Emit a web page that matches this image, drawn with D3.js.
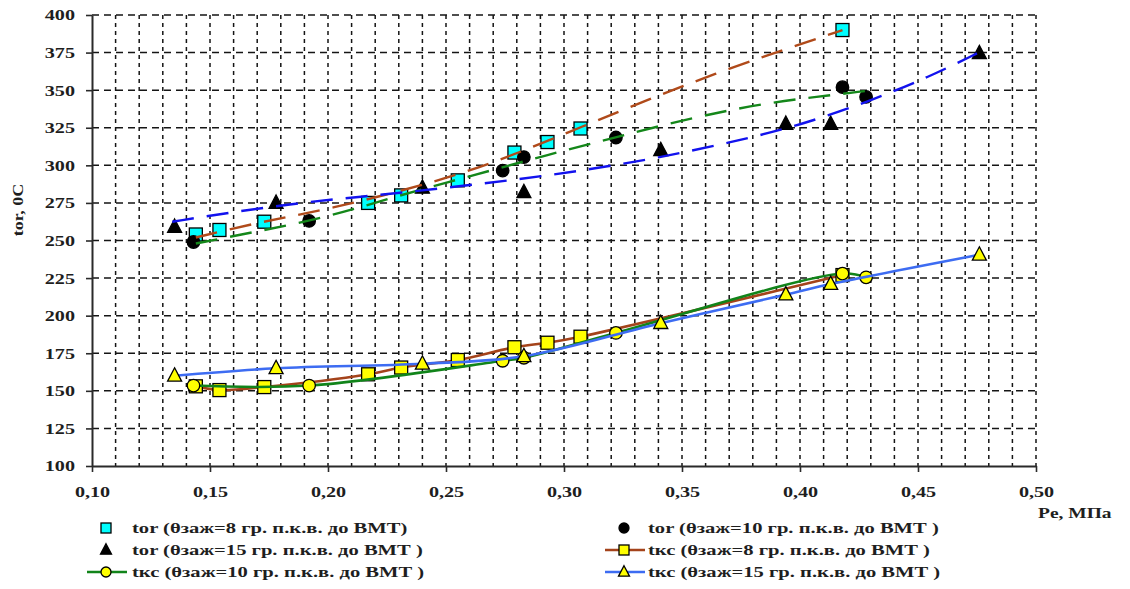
<!DOCTYPE html>
<html>
<head>
<meta charset="utf-8">
<script src="https://cdn.jsdelivr.net/npm/d3@7"></script>
<style>
  body { margin: 0; background: #fff; }
  text { font-family: "Liberation Serif", "Times New Roman", serif; font-weight: bold; fill: #1e1e1e; }
</style>
</head>
<body>
<svg id="chart" width="1130" height="589"></svg>
<script>
// ---- axis ticks ----
const X_TICKS = [0.10, 0.15, 0.20, 0.25, 0.30, 0.35, 0.40, 0.45, 0.50];
const Y_TICKS = [100, 125, 150, 175, 200, 225, 250, 275, 300, 325, 350, 375, 400];

// ---- θзаж = 8 ----
const PE_8   = [0.144, 0.154, 0.173, 0.217, 0.231, 0.255, 0.279, 0.293, 0.307, 0.418];
const TOG_8  = [254, 257, 262.5, 275, 280, 290, 308.5, 315.5, 324.5, 390];
const TKS_8  = [153, 150.5, 152.5, 161, 165.5, 170.5, 179, 182, 186, 227];

// ---- θзаж = 10 ----
const PE_10  = [0.143, 0.192, 0.274, 0.283, 0.322, 0.418, 0.428];
const TOG_10 = [249, 263, 296.5, 305.5, 318.5, 352, 345.5];
const TKS_10 = [153.5, 153.5, 170, 172, 188.5, 228, 225.5];

// ---- θзаж = 15 ----
const PE_15  = [0.135, 0.178, 0.240, 0.283, 0.341, 0.394, 0.413, 0.476];
const TOG_15 = [259, 275, 285, 282, 310, 327.5, 327.5, 374.5];
const TKS_15 = [160, 165, 168, 173, 195, 214, 221, 240.5];

// ---- trend lines of tог ----
const TREND_8_PE  = [0.144, 0.170, 0.200, 0.246, 0.275, 0.308, 0.340, 0.370, 0.401, 0.418];
const TREND_8_T   = [252, 262, 270.5, 289, 304.5, 326, 346.5, 364.5, 381, 390];
const TREND_10_PE = [0.144, 0.170, 0.200, 0.230, 0.262, 0.293, 0.324, 0.355, 0.386, 0.407, 0.428];
const TREND_10_T  = [248, 256, 265.5, 280, 293.5, 307, 319.5, 332, 341.5, 345.5, 349.5];
const TREND_15_PE = [0.134, 0.160, 0.190, 0.220, 0.250, 0.280, 0.310, 0.340, 0.370, 0.400, 0.430, 0.455, 0.475];
const TREND_15_T  = [262.5, 269, 275.5, 280, 285, 290.5, 297, 305, 315, 326.5, 343, 359, 374.5];

const LEGEND_LABELS = [
  "tor  (θзаж=8 гр. п.к.в. до ВМТ)",
  "tor  (θзаж=10 гр. п.к.в. до ВМТ )",
  "tor  (θзаж=15 гр. п.к.в. до ВМТ )",
  "tкс (θзаж=8 гр. п.к.в. до ВМТ )",
  "tкс (θзаж=10 гр. п.к.в. до ВМТ )",
  "tкс (θзаж=15 гр. п.к.в. до ВМТ )"
];

const svg = d3.select("#chart");
const STRETCH = 1.3;   // wide lettering used throughout the chart

const x = d3.scaleLinear().domain([0.10, 0.50]).range([92, 1036]);
const y = d3.scaleLinear().domain([100, 400]).range([466, 15]);

const C = {
  brown: "#a4431b", brownTrend: "#b04a1a",
  green: "#11841a", greenTrend: "#14871a",
  blue: "#3d6cf2", blueTrend: "#1212ee",
  cyan: "#00ffff", yellow: "#ffff00"
};

// ---- grid ----
const grid = svg.append("g");
grid.selectAll("line.v")
  .data(x.ticks(40).filter(v => v > 0.1001))
  .join("line")
  .attr("x1", d => x(d)).attr("x2", d => x(d))
  .attr("y1", y(400)).attr("y2", y(100))
  .attr("stroke", "#151515").attr("stroke-width", 1.5)
  .attr("stroke-dasharray", "4,4");
grid.selectAll("line.h")
  .data(Y_TICKS.filter(v => v > 100))
  .join("line")
  .attr("x1", x(0.10)).attr("x2", x(0.50))
  .attr("y1", d => y(d)).attr("y2", d => y(d))
  .attr("stroke", "#151515").attr("stroke-width", 1.5)
  .attr("stroke-dasharray", "7,5");

// ---- axes ----
const yAxis = svg.append("g").attr("transform", `translate(${x(0.10)},0)`)
  .call(d3.axisLeft(y).tickValues(Y_TICKS).tickSize(6).tickSizeOuter(0).tickPadding(11)
    .tickFormat(d3.format("d")));
const xAxis = svg.append("g").attr("transform", `translate(0,${y(100)})`)
  .call(d3.axisBottom(x).tickValues(X_TICKS).tickSize(6).tickSizeOuter(0).tickPadding(14)
    .tickFormat(d => d.toFixed(2).replace(".", ",")));

[yAxis, xAxis].forEach(a => {
  a.select(".domain").attr("stroke", "#2a2a2a").attr("stroke-width", 2);
  a.selectAll(".tick line").attr("stroke", "#2a2a2a").attr("stroke-width", 1.6);
  a.selectAll(".tick text").attr("font-size", 15.5).attr("fill", "#1e1e1e")
    .attr("font-family", "Liberation Serif, serif").attr("font-weight", "bold");
});
yAxis.selectAll(".tick text").each(function () {
  const t = d3.select(this);
  const px = +t.attr("x");
  t.attr("x", 0).attr("transform", `translate(${px},0) scale(${STRETCH},1)`);
});
xAxis.selectAll(".tick text").each(function () {
  const t = d3.select(this);
  const py = +t.attr("y");
  t.attr("y", 0).attr("transform", `translate(0,${py}) scale(${STRETCH},1)`);
});

// axis titles
svg.append("text")
  .attr("transform", `translate(23,210) rotate(-90) scale(1.2,1)`)
  .attr("text-anchor", "middle").attr("font-size", 15)
  .text("tor, 0C");
svg.append("text")
  .attr("transform", `translate(1038,518) scale(${STRETCH},1)`)
  .attr("font-size", 15)
  .text("Pe, МПа");

// ---- marker helpers ----
function drawMarker(g, shape, cx, cy, fill, s) {
  if (shape === "square") {
    g.append("rect").attr("x", cx - s / 2).attr("y", cy - s / 2)
      .attr("width", s).attr("height", s)
      .attr("fill", fill).attr("stroke", "#000").attr("stroke-width", 1.3);
  } else if (shape === "circle") {
    g.append("circle").attr("cx", cx).attr("cy", cy).attr("r", s / 2)
      .attr("fill", fill).attr("stroke", "#000").attr("stroke-width", 1.3);
  } else {
    const h = s * 0.95;
    g.append("path")
      .attr("d", `M${cx},${cy - h * 0.6}L${cx + s / 2},${cy + h * 0.4}L${cx - s / 2},${cy + h * 0.4}Z`)
      .attr("fill", fill).attr("stroke", "#000").attr("stroke-width", 1.3)
      .attr("stroke-linejoin", "miter");
  }
}
const pairs = (xs, ys) => xs.map((v, i) => [v, ys[i]]);
const smoothLine = d3.line().x(d => x(d[0])).y(d => y(d[1])).curve(d3.curveCatmullRom.alpha(0.5));
const trendLine = d3.line().x(d => x(d[0])).y(d => y(d[1])).curve(d3.curveBasis);

const plot = svg.append("g");

// tог markers
const tog = [
  { xs: PE_8,  ys: TOG_8,  shape: "square",   fill: C.cyan, size: 13 },
  { xs: PE_10, ys: TOG_10, shape: "circle",   fill: "#000", size: 12.5 },
  { xs: PE_15, ys: TOG_15, shape: "triangle", fill: "#000", size: 14 }
];
tog.forEach(s => {
  const g = plot.append("g");
  pairs(s.xs, s.ys).forEach(p => drawMarker(g, s.shape, x(p[0]), y(p[1]), s.fill, s.size));
});

// tкс lines with markers
const tks = [
  { xs: PE_8,  ys: TKS_8,  shape: "square",   color: C.brown, size: 13 },
  { xs: PE_10, ys: TKS_10, shape: "circle",   color: C.green, size: 12.5 },
  { xs: PE_15, ys: TKS_15, shape: "triangle", color: C.blue,  size: 14 }
];
tks.forEach(s => {
  const g = plot.append("g");
  const data = pairs(s.xs, s.ys);
  g.append("path").attr("d", smoothLine(data))
    .attr("fill", "none").attr("stroke", s.color).attr("stroke-width", 2.6);
  data.forEach(p => drawMarker(g, s.shape, x(p[0]), y(p[1]), C.yellow, s.size));
});

// trend lines of tог
[
  { xs: TREND_8_PE,  ys: TREND_8_T,  color: C.brownTrend },
  { xs: TREND_10_PE, ys: TREND_10_T, color: C.greenTrend },
  { xs: TREND_15_PE, ys: TREND_15_T, color: C.blueTrend }
].forEach(s => {
  plot.append("path").attr("d", trendLine(pairs(s.xs, s.ys)))
    .attr("fill", "none").attr("stroke", s.color).attr("stroke-width", 2.4)
    .attr("stroke-dasharray", "22,13");
});

// ---- legend ----
const legend = svg.append("g");
const legendItems = [
  { col: 0, row: 0, shape: "square",   fill: C.cyan,   line: null,    size: 10 },
  { col: 1, row: 0, shape: "circle",   fill: "#000",   line: null,    size: 10 },
  { col: 0, row: 1, shape: "triangle", fill: "#000",   line: null,    size: 11 },
  { col: 1, row: 1, shape: "square",   fill: C.yellow, line: C.brown, size: 10 },
  { col: 0, row: 2, shape: "circle",   fill: C.yellow, line: C.green, size: 10 },
  { col: 1, row: 2, shape: "triangle", fill: C.yellow, line: C.blue,  size: 11 }
];
const colMarkX = [106, 624];
const colTextX = [132, 648];
const rowY = [528, 550, 572];
legendItems.forEach((it, i) => {
  const cx = colMarkX[it.col], cy = rowY[it.row];
  const g = legend.append("g");
  if (it.line) {
    g.append("line").attr("x1", cx - 19).attr("x2", cx + 21)
      .attr("y1", cy).attr("y2", cy)
      .attr("stroke", it.line).attr("stroke-width", 2.6);
  }
  drawMarker(g, it.shape, cx, cy, it.fill, it.size);
  g.append("text")
    .attr("transform", `translate(${colTextX[it.col]},${cy + 5}) scale(1.42,1)`)
    .attr("font-size", 14.5)
    .text(LEGEND_LABELS[i]);
});
</script>
</body>
</html>
